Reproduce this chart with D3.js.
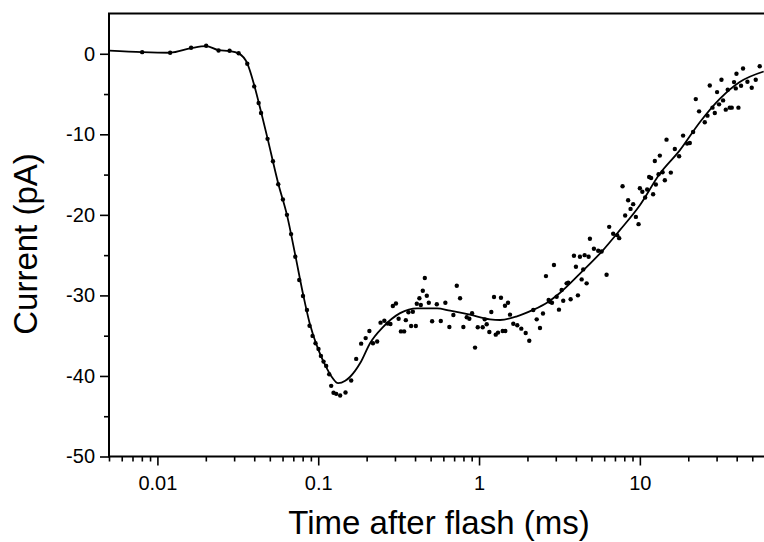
<!DOCTYPE html>
<html><head><meta charset="utf-8">
<script src="https://cdn.jsdelivr.net/npm/d3@7"></script>
<style>
html,body{margin:0;padding:0;background:#fff;}
svg{display:block;font-family:"Liberation Sans",Arial,sans-serif;}
</style></head>
<body>
<svg id="chart" width="764" height="542"></svg>
<script>
// ---- data ----
const timeMs = [0.00804,0.0120,0.0162,0.0201,0.0240,0.0281,0.0320,0.0362,0.0400,0.0426,0.0441,0.0484,0.0523,0.0564,0.0603,0.0639,0.0678,0.0720,0.0762,0.0804,0.0851,0.0883,0.0922,0.0962,0.1004,0.1039,0.1079,0.1121,0.1170,0.1204,0.1245,0.1294,0.1369,0.1478,0.1603,0.1722,0.1849,0.1972,0.2080,0.2190,0.2325,0.2441,0.2577,0.2702,0.2812,0.2911,0.3043,0.3162,0.3268,0.3421,0.3505,0.3638,0.3781,0.3875,0.4045,0.4102,0.4258,0.4345,0.4470,0.4600,0.4734,0.4871,0.5107,0.5461,0.5782,0.6175,0.6538,0.6923,0.7269,0.7621,0.7989,0.8386,0.8705,0.9047,0.9444,0.9816,1.054,1.085,1.116,1.159,1.192,1.239,1.270,1.312,1.369,1.403,1.457,1.450,1.514,1.558,1.633,1.729,1.831,1.950,2.053,2.174,2.283,2.393,2.498,2.607,2.710,2.761,2.841,2.923,3.038,3.140,3.264,3.339,3.505,3.586,3.711,3.892,4.004,4.120,4.240,4.345,4.445,4.535,4.666,4.801,4.891,5.180,5.508,5.782,6.210,6.446,6.826,7.228,7.437,7.806,8.102,8.457,8.753,9.086,9.445,9.815,10.0,10.36,10.79,11.10,11.42,11.75,12.09,12.39,12.57,13.07,13.31,13.84,14.30,14.65,15.58,16.50,17.54,18.57,19.67,20.44,21.43,22.27,23.35,25.33,26.33,27.21,28.29,29.24,30.21,31.08,32.17,32.92,34.21,35.20,36.22,37.27,38.52,39.48,39.87,41.02,42.58,43.81,46.66,49.62,52.54,55.63];
const currentPA = [0.20,0.12,0.74,0.99,0.41,0.37,0.07,-1.24,-4.05,-6.12,-7.36,-10.56,-13.35,-16.20,-18.08,-20.0,-22.39,-25.2,-28.09,-30.07,-31.81,-33.76,-35.03,-35.94,-36.64,-37.51,-38.22,-38.75,-39.78,-41.23,-42.09,-42.22,-42.43,-42.06,-40.57,-37.88,-35.99,-35.30,-34.41,-35.94,-35.73,-33.38,-33.14,-33.50,-33.55,-31.32,-31.0,-32.89,-34.47,-34.47,-33.07,-32.09,-33.79,-32.02,-33.79,-31.03,-30.36,-31.19,-29.42,-27.84,-30.04,-30.91,-33.21,-31.10,-33.17,-30.91,-33.92,-32.43,-28.80,-30.36,-33.92,-32.71,-32.89,-32.22,-36.48,-33.96,-33.96,-32.97,-33.58,-34.54,-32.06,-30.20,-34.87,-34.62,-30.29,-34.41,-34.41,-31.28,-30.91,-32.39,-33.51,-33.71,-34.13,-34.66,-35.62,-31.81,-32.97,-34.04,-32.24,-27.60,-30.57,-30.78,-30.91,-26.23,-30.16,-31.77,-29.33,-30.66,-28.50,-28.43,-30.48,-25.08,-26.44,-29.99,-25.20,-28.01,-26.77,-25.0,-28.50,-25.20,-22.97,-24.21,-24.46,-24.54,-27.43,-21.49,-22.35,-22.52,-22.89,-16.44,-20.07,-18.18,-19.26,-18.67,-20.25,-21.15,-16.69,-17.13,-17.84,-16.85,-15.29,-15.42,-17.44,-13.31,-16.23,-14.96,-12.64,-14.71,-15.70,-10.66,-14.75,-11.82,-12.73,-10.16,-11.15,-11.08,-9.71,-5.63,-7.15,-8.51,-7.68,-3.93,-6.69,-7.36,-4.76,-6.28,-3.22,-5.79,-6.94,-4.46,-6.69,-6.69,-3.52,-4.30,-2.48,-6.69,-3.97,-1.82,-3.47,-4.21,-3.22,-1.54];

const fitTime = [0.00503,0.00804,0.0120,0.0162,0.0201,0.0240,0.0281,0.0320,0.0362,0.0400,0.0441,0.0484,0.0564,0.0639,0.0720,0.0804,0.0883,0.1004,0.1121,0.1204,0.1331,0.1472,0.158,0.1824,0.2104,0.2535,0.3229,0.412,0.548,0.661,0.879,1.170,1.350,1.72,2.165,2.644,3.18,4.24,5.89,7.51,10.0,13.3,17.7,23.6,31.4,41.8,58.9];
const fitCurrent = [0.40,0.20,0.13,0.70,0.95,0.45,0.35,0.05,-1.2,-3.9,-7.2,-10.5,-16.1,-20.0,-25.0,-29.8,-33.4,-36.8,-38.9,-40.0,-40.9,-40.6,-40.1,-38.4,-35.9,-33.9,-32.2,-31.6,-31.6,-31.9,-32.4,-32.97,-33.05,-32.6,-31.8,-30.9,-29.7,-27.3,-24.4,-21.9,-18.8,-14.9,-12.0,-8.5,-5.6,-3.5,-2.2];

const xDomain = [0.005, 60];
const yDomain = [-50, 5];
const xMajorTicks = [0.01, 0.1, 1, 10];
const xTickLabels = ["0.01", "0.1", "1", "10"];
const xMinorMultipliers = [2,3,4,5,6,7,8,9];
const yMajorTicks = [-50, -40, -30, -20, -10, 0];
const yMinorTicks = [-45, -35, -25, -15, -5];
const xTitle = "Time after flash (ms)";
const yTitle = "Current (pA)";

// ---- layout ----
const L = 109, R = 765, T = 13.5, B = 456.5;
const svg = d3.select("#chart");

const x = d3.scaleLog().domain(xDomain).range([L, R]);
const y = d3.scaleLinear().domain(yDomain).range([B, T]);

const xMinor = [];
[0.001, 0.01, 0.1, 1, 10].forEach(d => xMinorMultipliers.forEach(k => {
  const v = d * k;
  if (v >= xDomain[0] - 1e-12 && v <= xDomain[1]) xMinor.push(v);
}));

svg.append("clipPath").attr("id", "clip")
  .append("rect").attr("x", L).attr("y", T - 3).attr("width", R - L).attr("height", B - T + 3);

const plot = svg.append("g").attr("clip-path", "url(#clip)");

// fit line
const line = d3.line().x(d => x(d[0])).y(d => y(d[1])).curve(d3.curveMonotoneX);
plot.append("path")
  .datum(d3.zip(fitTime, fitCurrent))
  .attr("d", line)
  .attr("fill", "none").attr("stroke", "#000").attr("stroke-width", 1.8);

// points
plot.selectAll("circle").data(d3.zip(timeMs, currentPA)).join("circle")
  .attr("cx", d => x(d[0])).attr("cy", d => y(d[1])).attr("r", 2.2).attr("fill", "#000");

// axes
const fontTick = "20px";
const gx = svg.append("g").attr("transform", `translate(0,${B})`);
gx.append("g").call(d3.axisBottom(x).tickValues(xMinor).tickSize(5).tickFormat(""))
  .call(g => g.select(".domain").remove());
gx.append("g").call(d3.axisBottom(x).tickValues(xMajorTicks).tickSize(9)
    .tickFormat((d, i) => xTickLabels[i]))
  .call(g => g.select(".domain").remove())
  .call(g => g.selectAll("text").attr("y", 33).attr("dy", 0)
     .style("font-size", fontTick).style("font-family", "Liberation Sans, Arial, sans-serif").attr("fill", "#000"));
gx.selectAll(".tick line").attr("stroke", "#000").attr("stroke-width", 1.6);
svg.append("line").attr("x1", L).attr("x2", 764).attr("y1", B).attr("y2", B)
  .attr("stroke", "#000").attr("stroke-width", 2);

const gy = svg.append("g").attr("transform", `translate(${L},0)`);
gy.append("g").call(d3.axisLeft(y).tickValues(yMinorTicks).tickSize(5).tickFormat(""))
  .call(g => g.select(".domain").remove());
gy.append("g").call(d3.axisLeft(y).tickValues(yMajorTicks).tickSize(9).tickPadding(5)
    .tickFormat(d => String(d)))
  .call(g => g.select(".domain").remove())
  .call(g => g.selectAll("text").style("font-size", fontTick)
     .style("font-family", "Liberation Sans, Arial, sans-serif").attr("fill", "#000"));
gy.selectAll(".tick line").attr("stroke", "#000").attr("stroke-width", 1.6);
svg.append("line").attr("x1", L).attr("x2", L).attr("y1", T).attr("y2", B + 1)
  .attr("stroke", "#000").attr("stroke-width", 2);

// top frame line
svg.append("line").attr("x1", L - 1).attr("x2", 764).attr("y1", T).attr("y2", T)
  .attr("stroke", "#000").attr("stroke-width", 2);

// titles
svg.append("text").attr("x", 439).attr("y", 534).attr("text-anchor", "middle")
  .style("font-size", "33px").attr("fill", "#000").text(xTitle);
svg.append("text").attr("transform", "translate(37,244) rotate(-90)").attr("text-anchor", "middle")
  .style("font-size", "33px").attr("fill", "#000").text(yTitle);
</script>
</body></html>
